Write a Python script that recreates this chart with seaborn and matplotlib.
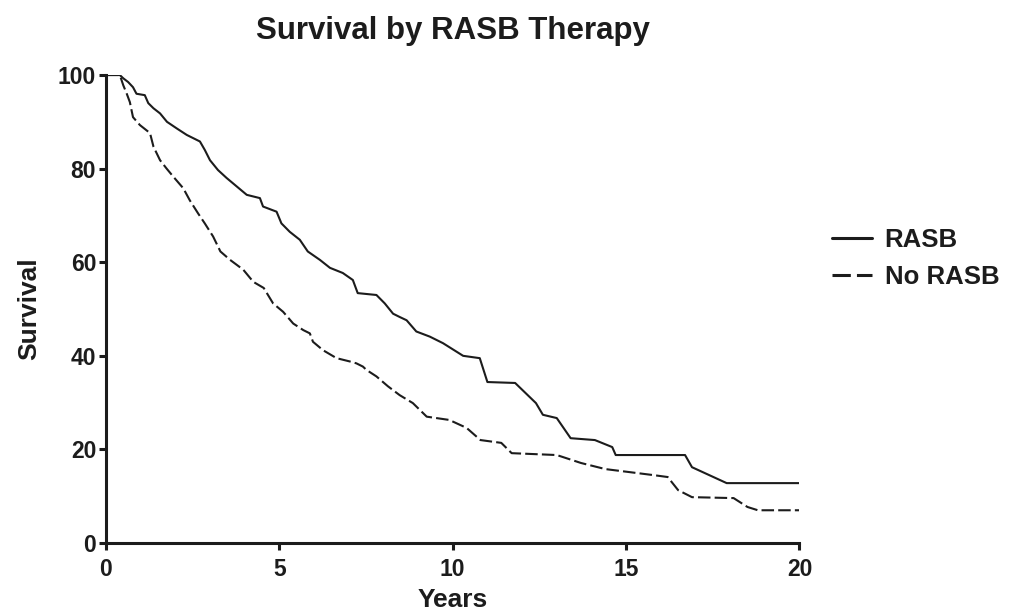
import numpy as np
import pandas as pd
import matplotlib
matplotlib.use("Agg")
import matplotlib.pyplot as plt
import seaborn as sns

# survival curves (years, % surviving)
rasb_years = [0, 0.4, 0.5, 0.64, 0.78, 0.88, 1.12, 1.22, 1.37, 1.56, 1.76, 2.04, 2.33,
              2.71, 2.85, 3.0, 3.23, 3.48, 3.77, 4.06, 4.44, 4.53, 4.92, 5.06, 5.3,
              5.59, 5.82, 6.17, 6.46, 6.83, 7.12, 7.26, 7.8, 8.04, 8.28, 8.47, 8.67,
              8.95, 9.34, 9.72, 10.3, 10.78, 11.0, 11.8, 12.4, 12.6, 13.0, 13.4,
              14.1, 14.6, 14.7, 16.7, 16.9, 17.4, 17.9, 20]
rasb_surv = [100, 100, 99.3, 98.5, 97.4, 96, 95.7, 94, 92.9, 91.8, 90, 88.6, 87.2,
             85.8, 84, 81.8, 79.7, 78, 76.2, 74.4, 73.7, 71.9, 70.8, 68.3, 66.5,
             64.8, 62.3, 60.5, 58.8, 57.7, 56.2, 53.4, 53.0, 51.2, 49.0, 48.3, 47.6,
             45.2, 44.1, 42.7, 40.0, 39.5, 34.4, 34.2, 29.9, 27.4, 26.7, 22.4,
             22.0, 20.5, 18.8, 18.8, 16.2, 14.5, 12.8, 12.8]

norasb_years = [0, 0.4, 0.5, 0.6, 0.69, 0.74, 0.78, 0.98, 1.27, 1.37, 1.56, 1.75, 1.94,
                2.23, 2.42, 2.66, 2.85, 3.09, 3.3, 3.58, 3.96, 4.25, 4.55, 4.82, 5.11,
                5.4, 5.69, 5.88, 5.97, 6.26, 6.65, 7.03, 7.22, 7.41, 7.51, 7.8, 8.13,
                8.47, 8.85, 9.25, 9.9, 10.4, 10.8, 11.4, 11.7, 13.0, 13.7, 14.4, 15.8,
                16.2, 16.5, 16.9, 18.1, 18.5, 18.8, 20]
norasb_surv = [100, 100, 97.8, 96, 94.2, 92.4, 91, 89.3, 87.6, 84.7, 81.8, 80, 78.3,
               75.8, 73.2, 70.4, 68.3, 65.5, 62.3, 60.5, 58.4, 55.8, 54.5, 51.2, 49.4,
               46.9, 45.5, 44.8, 43, 41.2, 39.5, 38.8, 38.4, 37.7, 37, 35.6, 33.5,
               31.6, 29.9, 27, 26.3, 24.6, 22, 21.4, 19.2, 18.8, 17.1, 15.8, 14.5,
               14.1, 11.3, 9.8, 9.6, 7.7, 7.0, 7.0]

groups = ["RASB", "No RASB"]
x_ticks = [0, 5, 10, 15, 20]
y_ticks = [0, 20, 40, 60, 80, 100]

df = pd.concat([
    pd.DataFrame({"Years": rasb_years, "Survival": rasb_surv, "group": "RASB"}),
    pd.DataFrame({"Years": norasb_years, "Survival": norasb_surv, "group": "No RASB"}),
])

sns.set_style("ticks")
plt.rcParams["font.family"] = ["Liberation Sans", "DejaVu Sans"]
plt.rcParams["font.weight"] = "bold"

fig = plt.figure(figsize=(10.11, 6.14), dpi=100)
ax = fig.add_axes([0.1048, 0.1156, 0.686, 0.7622])

ink = "#1c1c1c"
sns.lineplot(data=df, x="Years", y="Survival", style="group", style_order=groups,
             dashes={"RASB": "", "No RASB": (6, 2)}, color=ink, linewidth=1.5,
             estimator=None, sort=False, ax=ax)

ax.set_xlim(0, 20)
ax.set_ylim(0, 100)
ax.set_xticks(x_ticks)
ax.set_yticks(y_ticks)
ax.tick_params(axis="both", length=5, width=2.2, color=ink, labelsize=16.5,
               labelcolor=ink)
ax.tick_params(axis="y", pad=2)
ax.tick_params(axis="x", pad=6)
for lbl in ax.get_xticklabels() + ax.get_yticklabels():
    lbl.set_fontweight("bold")
for side in ["left", "bottom"]:
    ax.spines[side].set_linewidth(2.2)
    ax.spines[side].set_color(ink)
sns.despine(ax=ax)

ax.set_xlabel("Years", fontsize=19, fontweight="bold", color=ink, labelpad=5)
ax.set_ylabel("Survival", fontsize=19, fontweight="bold", color=ink, labelpad=12)
ax.set_title("Survival by RASB Therapy", fontsize=22.5, fontweight="bold",
             color=ink, pad=26)

handles, labels = ax.get_legend_handles_labels()
leg = ax.legend(handles, labels, loc="center left", bbox_to_anchor=(0.800, 0.579),
                bbox_transform=fig.transFigure, frameon=False, fontsize=18.5,
                handlelength=1.55, handletextpad=0.5, labelspacing=0.53,
                labelcolor=ink)
for h in leg.get_lines():
    h.set_linewidth(2.2)

fig.savefig("out.png", dpi=100)
